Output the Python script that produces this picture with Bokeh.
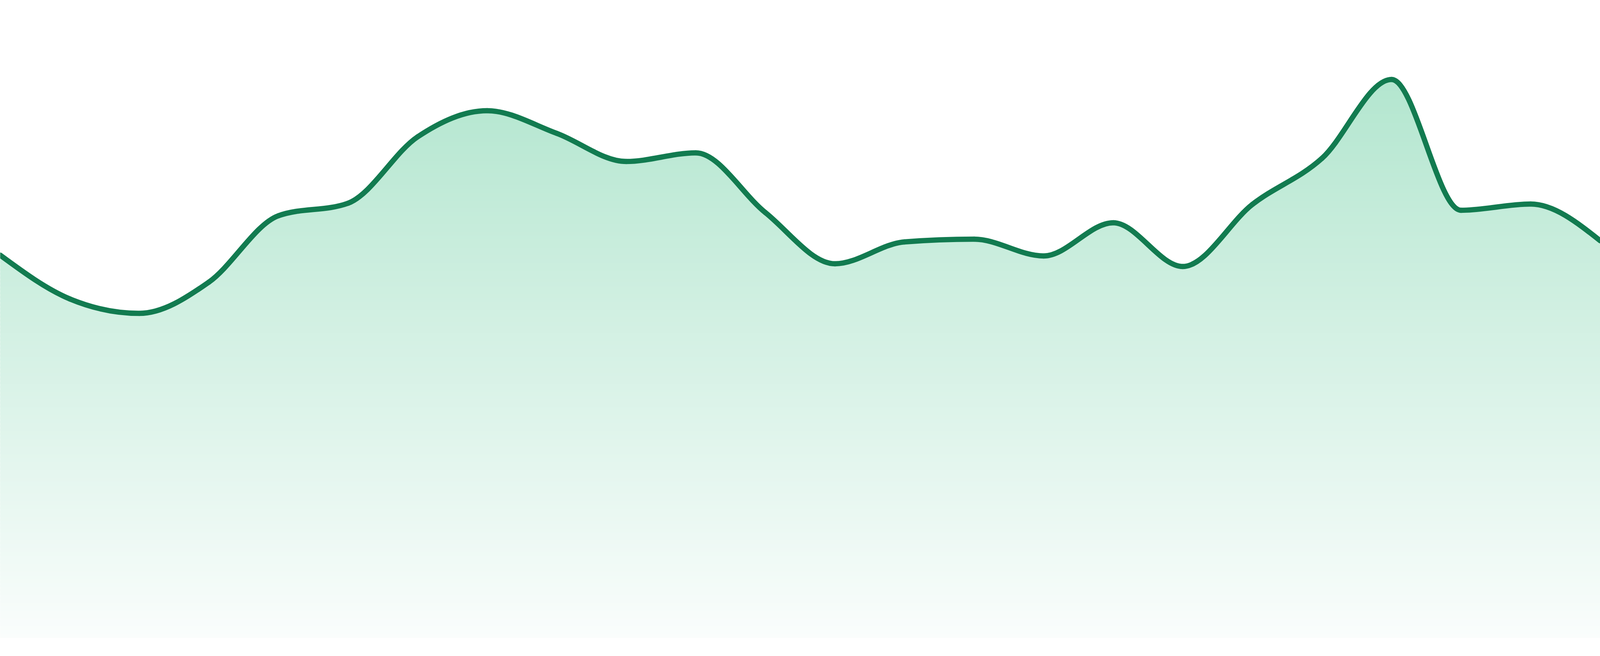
import numpy as np
from bokeh.plotting import figure
from bokeh.models import Range1d
from bokeh.embed import file_html
from bokeh.resources import INLINE

# ---- data ----
x_idx = list(range(24))
values = [98.0, 86.8, 83.1, 91.1, 108.1, 111.3, 128.3, 135.0, 129.2, 122.0,
          124.2, 108.9, 95.8, 101.4, 102.1, 97.8, 106.3, 95.1, 111.0, 122.8,
          143.0, 109.5, 111.1, 101.7]

LINE_COLOR = "#127b50"
FILL_TOP = (179, 230, 207)
FILL_BOTTOM = (250, 253, 252)


def monotone_tangents(xs, ys):
    n = len(xs)
    t = [0.0] * n
    for i in range(1, n - 1):
        h0 = xs[i] - xs[i - 1]
        h1 = xs[i + 1] - xs[i]
        s0 = (ys[i] - ys[i - 1]) / h0
        s1 = (ys[i + 1] - ys[i]) / h1
        p = (s0 * h1 + s1 * h0) / (h0 + h1)
        t[i] = (np.sign(s0) + np.sign(s1)) * min(abs(s0), abs(s1), 0.5 * abs(p))
    h = xs[1] - xs[0]
    t[0] = (3 * (ys[1] - ys[0]) / h - t[1]) / 2
    h = xs[-1] - xs[-2]
    t[-1] = (3 * (ys[-1] - ys[-2]) / h - t[-2]) / 2
    return t


tan = monotone_tangents(x_idx, values)
bx0, by0, bx1, by1, cx0, cy0, cx1, cy1 = [], [], [], [], [], [], [], []
for i in range(len(x_idx) - 1):
    xa, ya, xb, yb = x_idx[i], values[i], x_idx[i + 1], values[i + 1]
    dx = (xb - xa) / 3.0
    bx0.append(xa); by0.append(ya); bx1.append(xb); by1.append(yb)
    cx0.append(xa + dx); cy0.append(ya + dx * tan[i])
    cx1.append(xb - dx); cy1.append(yb - dx * tan[i + 1])

# points along the spline (used to shape the filled area)
u = np.linspace(0, 1, 25)
sx, sy = [], []
for i in range(len(bx0)):
    uu = u if i == 0 else u[1:]
    a = (1 - uu) ** 3; b = 3 * (1 - uu) ** 2 * uu; c = 3 * (1 - uu) * uu ** 2; d = uu ** 3
    sx.extend(a * bx0[i] + b * cx0[i] + c * cx1[i] + d * bx1[i])
    sy.extend(a * by0[i] + b * cy0[i] + c * cy1[i] + d * by1[i])
sx = np.array([x_idx[0] - 1.0] + list(sx) + [x_idx[-1] + 1.0])
sy = np.array([values[0]] + list(sy) + [values[-1]])

X0, X1 = 0.0, 23.0
Y1 = 163.3
Y0 = Y1 - 168.0

p = figure(sizing_mode="stretch_both", output_backend="svg", toolbar_location=None,
           x_axis_location=None, y_axis_location=None,
           x_range=Range1d(X0, X1), y_range=Range1d(Y0, Y1),
           min_border=0, outline_line_color=None,
           background_fill_color="white", border_fill_color="white")
p.grid.visible = False

# area under the curve with a vertical gradient: horizontal bands cut by the curve
vmax = max(values)
NB = 143
step = vmax / NB
band_xs, band_ys, band_colors = [], [], []
for k in range(NB):
    lo = k * step
    hi = (k + 1.5) * step
    top = np.clip(sy, lo, hi)
    band_xs.append(list(sx) + [sx[-1], sx[0]])
    band_ys.append(list(top) + [lo, lo])
    t = 1 - (k + 0.5) / NB
    r = int(round(FILL_TOP[0] + t * (FILL_BOTTOM[0] - FILL_TOP[0])))
    g = int(round(FILL_TOP[1] + t * (FILL_BOTTOM[1] - FILL_TOP[1])))
    b = int(round(FILL_TOP[2] + t * (FILL_BOTTOM[2] - FILL_TOP[2])))
    band_colors.append("#%02x%02x%02x" % (r, g, b))
p.patches(xs=band_xs, ys=band_ys, fill_color=band_colors, line_color=None)

# the line itself
p.bezier(x0=bx0, y0=by0, x1=bx1, y1=by1, cx0=cx0, cy0=cy0, cx1=cx1, cy1=cy1,
         line_color=LINE_COLOR, line_width=13.5, line_cap="round")

open("out.html", "w").write(file_html(p, INLINE))
